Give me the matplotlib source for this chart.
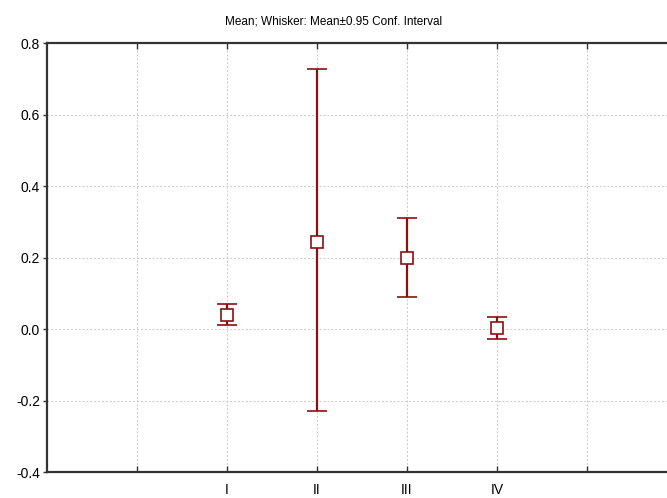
import matplotlib
matplotlib.use("Agg")
import matplotlib.pyplot as plt

plt.rcParams['font.family'] = ['Liberation Sans', 'DejaVu Sans']

categories = ["I", "II", "III", "IV"]
means = [0.040, 0.243, 0.199, 0.002]
upper = [0.070, 0.727, 0.310, 0.034]
lower = [0.012, -0.229, 0.090, -0.028]
ytick_values = [-0.4, -0.2, 0.0, 0.2, 0.4, 0.6, 0.8]

positions = [2, 3, 4, 5]
err_low = [m - l for m, l in zip(means, lower)]
err_up = [u - m for u, m in zip(upper, means)]

fig = plt.figure(figsize=(6.67, 4.98), dpi=100)
ax = fig.add_axes([47/667, 26/498, 630/667, 429/498])

color = "#8B1010"
ax.errorbar(positions, means, yerr=[err_low, err_up], fmt="s", color=color,
            ecolor=color, elinewidth=1.6, capsize=7, capthick=1.6,
            markersize=8.5, markerfacecolor="white", markeredgecolor=color,
            markeredgewidth=1.2, zorder=3)

ax.set_xlim(0, 7)
ax.set_ylim(-0.4, 0.8)
ax.set_yticks(ytick_values)
ax.set_yticklabels([f"{v:.1f}" for v in ytick_values])
ax.set_xticks([1, 2, 3, 4, 5, 6])
ax.set_xticklabels([""] + categories + [""])

ax.grid(True, color="#c8c8c8", linestyle=(0, (2, 2)), linewidth=0.7)
ax.set_axisbelow(True)

for s in ["left", "bottom", "top"]:
    ax.spines[s].set_linewidth(1.6)
    ax.spines[s].set_color("#333333")
ax.spines["right"].set_visible(False)

ax.tick_params(axis="x", direction="in", top=True, bottom=True, length=4,
               width=1, labelsize=10, pad=8, colors="#333333", labelcolor="black")
ax.tick_params(axis="y", direction="out", left=True, length=3, width=1,
               labelsize=10, pad=2, colors="#333333", labelcolor="black")

fig.text(0.5, 1 - 22/498, "Mean; Whisker: Mean\u00b10.95 Conf. Interval",
         ha="center", va="center", fontsize=8.5)

fig.savefig("out.png", dpi=100)
